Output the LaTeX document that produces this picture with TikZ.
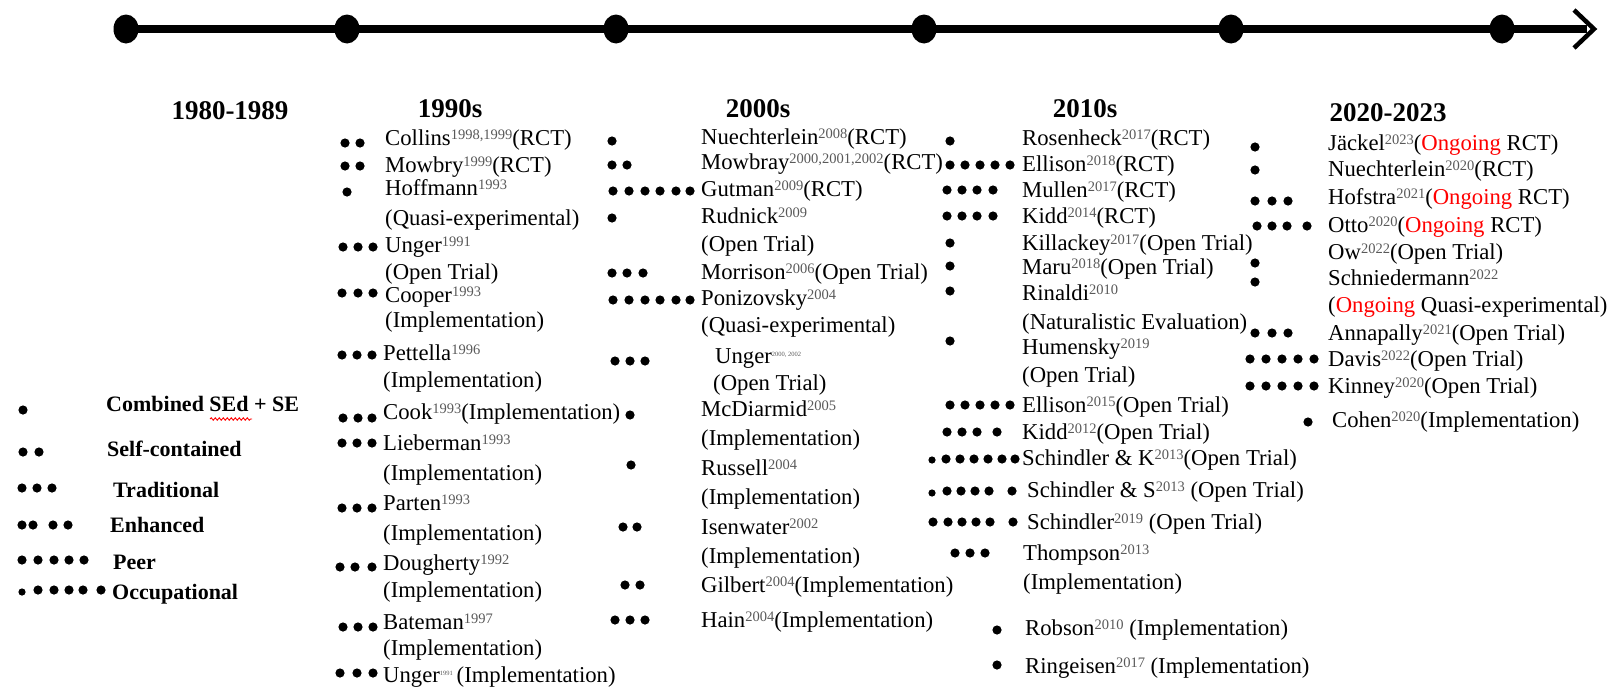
\documentclass[tikz,border=0pt]{standalone}
\usepackage{fontspec}
\setmainfont{Liberation Serif}
\usetikzlibrary{shapes.geometric,decorations.pathmorphing}
\newcommand{\yrsup}[1]{\raisebox{6pt}{\fontsize{14.5}{15}\selectfont\color{black!65}#1}}
\newcommand{\tinysup}[1]{\raisebox{7pt}{\fontsize{6.5}{7}\selectfont\color{black!65}#1}}
\newcommand{\ong}{\textcolor{red}{Ongoing}}
\newcommand{\dotrow}[2]{\foreach \xx in {#2} {\fill (\xx,#1) circle[radius=4.6pt];}}
\tikzset{
  entry/.style={anchor=base west, inner sep=0pt, font=\fontsize{22.7}{26}\selectfont},
  hdr/.style={anchor=base, inner sep=0pt, font=\bfseries\fontsize{27}{30}\selectfont},
  leg/.style={anchor=base west, inner sep=0pt, font=\bfseries\fontsize{22}{26}\selectfont},
  tdot/.style={ellipse, fill=black, minimum width=25pt, minimum height=29pt, inner sep=0pt},
}
\begin{document}
\begin{tikzpicture}[x=1pt,y=-1pt]
\useasboundingbox (0,0) rectangle (1608,688);

% timeline
\node[tdot] (t1) at (126,29) {};
\node[tdot] (t2) at (347,29) {};
\node[tdot] (t3) at (616,29) {};
\node[tdot] (t4) at (924,29) {};
\node[tdot] (t5) at (1231,29) {};
\node[tdot] (t6) at (1502,29) {};
\coordinate (tend) at (1594,29);
\draw[line width=8pt] (t1.center) -- ([shift={(-7,0)}]tend);
\draw[line width=4.5pt, line join=miter] ([shift={(-20,-19)}]tend) -- (tend) -- ([shift={(-20,19)}]tend);

% headers
\node[hdr] (h80) at (230,119) {1980-1989};
\node[hdr] (h90) at (450,117) {1990s};
\node[hdr] (h00) at (758,117) {2000s};
\node[hdr] (h10) at (1085,117) {2010s};
\node[hdr] (h20) at (1388,121) {2020-2023};

% legend
\node[leg] (l1) at (106,411) {Combined SEd + SE};
\dotrow{410}{23}
\draw[red, line width=0.9pt, decorate, decoration={snake, amplitude=1.2pt, segment length=4pt}] (210,419) -- (252,419);
\node[leg] (l2) at (107,456) {Self-contained};
\dotrow{452}{23,39}
\node[leg] (l3) at (113,497) {Traditional};
\dotrow{488}{22,37,52}
\node[leg] (l4) at (110,532) {Enhanced};
\dotrow{525}{22,33,53,68}
\node[leg] (l5) at (113,569) {Peer};
\dotrow{560}{22,38,54,69,84}
\node[leg] (l6) at (112,599) {Occupational};
\fill (22,592) circle[radius=3.6pt];
\dotrow{590}{38,54,69,83,101}

% 1990s
\node[entry] (c90a) at (385,145) {Collins\yrsup{1998,1999}(RCT)};
\dotrow{143}{345,360}
\node[entry] (c90b) at (385,172) {Mowbry\yrsup{1999}(RCT)};
\dotrow{166}{345,360}
\node[entry] (c90c) at (385,195) {Hoffmann\yrsup{1993}};
\dotrow{192}{347}
\node[entry] (c90d) at (385,225) {(Quasi-experimental)};
\node[entry] (c90e) at (385,252) {Unger\yrsup{1991}};
\dotrow{247}{343,358,373}
\node[entry] (c90f) at (385,279) {(Open Trial)};
\node[entry] (c90g) at (385,302) {Cooper\yrsup{1993}};
\dotrow{293}{342,358,373}
\node[entry] (c90h) at (385,327) {(Implementation)};
\node[entry] (c90i) at (383,360) {Pettella\yrsup{1996}};
\dotrow{355}{342,357,372}
\node[entry] (c90j) at (383,387) {(Implementation)};
\node[entry] (c90k) at (383,419) {Cook\yrsup{1993}(Implementation)};
\dotrow{418}{343,358,372}
\node[entry] (c90l) at (383,450) {Lieberman\yrsup{1993}};
\dotrow{443}{342,357,372}
\node[entry] (c90m) at (383,480) {(Implementation)};
\node[entry] (c90n) at (383,510) {Parten\yrsup{1993}};
\dotrow{508}{342,357,372}
\node[entry] (c90o) at (383,540) {(Implementation)};
\node[entry] (c90p) at (383,570) {Dougherty\yrsup{1992}};
\dotrow{567}{340,355,372}
\node[entry] (c90q) at (383,597) {(Implementation)};
\node[entry] (c90r) at (383,629) {Bateman\yrsup{1997}};
\dotrow{627}{343,358,373}
\node[entry] (c90s) at (383,655) {(Implementation)};
\node[entry] (c90t) at (383,682) {Unger\tinysup{1991}\,(Implementation)};
\dotrow{673}{340,357,373}

% 2000s
\node[entry] (c00a) at (701,144) {Nuechterlein\yrsup{2008}(RCT)};
\dotrow{141}{612}
\node[entry] (c00b) at (701,169) {Mowbray\yrsup{2000,2001,2002}(RCT)};
\dotrow{165}{612,627}
\node[entry] (c00c) at (701,196) {Gutman\yrsup{2009}(RCT)};
\dotrow{191}{613,629,645,660,676,690}
\node[entry] (c00d) at (701,223) {Rudnick\yrsup{2009}};
\dotrow{218}{612}
\node[entry] (c00e) at (701,251) {(Open Trial)};
\node[entry] (c00f) at (701,279) {Morrison\yrsup{2006}(Open Trial)};
\dotrow{273}{612,627,643}
\node[entry] (c00g) at (701,305) {Ponizovsky\yrsup{2004}};
\dotrow{300}{613,629,645,660,676,690}
\node[entry] (c00h) at (701,332) {(Quasi-experimental)};
\node[entry] (c00i) at (715,363) {Unger\tinysup{2000, 2002}};
\dotrow{361}{615,630,645}
\node[entry] (c00j) at (713,390) {(Open Trial)};
\node[entry] (c00k) at (701,416) {McDiarmid\yrsup{2005}};
\dotrow{415}{630}
\node[entry] (c00l) at (701,445) {(Implementation)};
\node[entry] (c00m) at (701,475) {Russell\yrsup{2004}};
\dotrow{465}{631}
\node[entry] (c00n) at (701,504) {(Implementation)};
\node[entry] (c00o) at (701,534) {Isenwater\yrsup{2002}};
\dotrow{527}{623,637}
\node[entry] (c00p) at (701,563) {(Implementation)};
\node[entry] (c00q) at (701,592) {Gilbert\yrsup{2004}(Implementation)};
\dotrow{585}{625,640}
\node[entry] (c00r) at (701,627) {Hain\yrsup{2004}(Implementation)};
\dotrow{620}{615,630,645}

% 2010s
\node[entry] (c10a) at (1022,145) {Rosenheck\yrsup{2017}(RCT)};
\dotrow{141}{950}
\node[entry] (c10b) at (1022,171) {Ellison\yrsup{2018}(RCT)};
\dotrow{165}{950,965,980,995,1010}
\node[entry] (c10c) at (1022,197) {Mullen\yrsup{2017}(RCT)};
\dotrow{190}{947,962,977,993}
\node[entry] (c10d) at (1022,223) {Kidd\yrsup{2014}(RCT)};
\dotrow{216}{947,962,977,993}
\node[entry] (c10e) at (1022,250) {Killackey\yrsup{2017}(Open Trial)};
\dotrow{243}{950}
\node[entry] (c10f) at (1022,274) {Maru\yrsup{2018}(Open Trial)};
\dotrow{266}{950}
\node[entry] (c10g) at (1022,300) {Rinaldi\yrsup{2010}};
\dotrow{291}{950}
\node[entry] (c10h) at (1022,329) {(Naturalistic Evaluation)};
\node[entry] (c10i) at (1022,354) {Humensky\yrsup{2019}};
\dotrow{341}{950}
\node[entry] (c10j) at (1022,382) {(Open Trial)};
\node[entry] (c10k) at (1022,412) {Ellison\yrsup{2015}(Open Trial)};
\dotrow{405}{950,965,980,995,1010}
\node[entry] (c10l) at (1022,439) {Kidd\yrsup{2012}(Open Trial)};
\dotrow{432}{947,962,977,997}
\node[entry] (c10m) at (1022,465) {Schindler \& K\yrsup{2013}(Open Trial)};
\fill (932,460) circle[radius=3.6pt];
\dotrow{459}{946,960,974,988,1002,1015}
\node[entry] (c10n) at (1027,497) {Schindler \& S\yrsup{2013} (Open Trial)};
\fill (932,493) circle[radius=3.6pt];
\dotrow{491}{947,961,975,989,1012}
\node[entry] (c10o) at (1027,529) {Schindler\yrsup{2019} (Open Trial)};
\dotrow{522}{933,948,962,976,990,1013}
\node[entry] (c10p) at (1023,560) {Thompson\yrsup{2013}};
\dotrow{553}{955,970,985}
\node[entry] (c10q) at (1023,589) {(Implementation)};
\node[entry] (c10r) at (1025,635) {Robson\yrsup{2010} (Implementation)};
\dotrow{630}{997}
\node[entry] (c10s) at (1025,673) {Ringeisen\yrsup{2017} (Implementation)};
\dotrow{665}{997}

% 2020-2023
\node[entry] (c20a) at (1328,150) {Jäckel\yrsup{2023}(\ong{} RCT)};
\dotrow{147}{1255}
\node[entry] (c20b) at (1328,176) {Nuechterlein\yrsup{2020}(RCT)};
\dotrow{170}{1255}
\node[entry] (c20c) at (1328,204) {Hofstra\yrsup{2021}(\ong{} RCT)};
\dotrow{201}{1255,1272,1288}
\node[entry] (c20d) at (1328,232) {Otto\yrsup{2020}(\ong{} RCT)};
\dotrow{226}{1257,1272,1287,1307}
\node[entry] (c20e) at (1328,259) {Ow\yrsup{2022}(Open Trial)};
\dotrow{263}{1255}
\node[entry] (c20f) at (1328,285) {Schniedermann\yrsup{2022}};
\dotrow{282}{1255}
\node[entry] (c20g) at (1328,312) {(\ong{} Quasi-experimental)};
\node[entry] (c20h) at (1328,340) {Annapally\yrsup{2021}(Open Trial)};
\dotrow{333}{1255,1272,1288}
\node[entry] (c20i) at (1328,366) {Davis\yrsup{2022}(Open Trial)};
\dotrow{359}{1250,1266,1282,1298,1314}
\node[entry] (c20j) at (1328,393) {Kinney\yrsup{2020}(Open Trial)};
\dotrow{386}{1250,1266,1282,1298,1314}
\node[entry] (c20k) at (1332,427) {Cohen\yrsup{2020}(Implementation)};
\dotrow{422}{1308}
\end{tikzpicture}
\end{document}
